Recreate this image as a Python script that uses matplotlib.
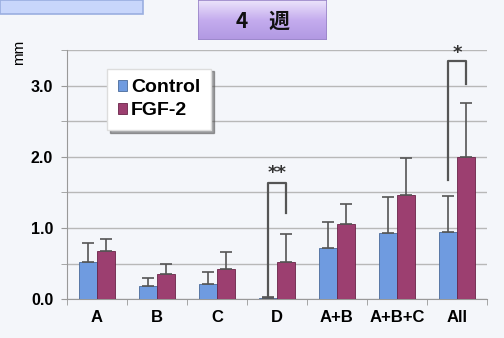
import numpy as np
import matplotlib.pyplot as plt
from matplotlib.patches import Rectangle
from matplotlib.ticker import MultipleLocator
from matplotlib.colors import LinearSegmentedColormap

categories = ['A', 'B', 'C', 'D', 'A+B', 'A+B+C', 'All']
control = [0.52, 0.18, 0.21, 0.02, 0.72, 0.93, 0.94]
control_err = [0.27, 0.11, 0.17, 0.01, 0.36, 0.51, 0.51]
fgf2 = [0.67, 0.36, 0.43, 0.52, 1.05, 1.46, 2.00]
fgf2_err = [0.18, 0.13, 0.23, 0.39, 0.28, 0.52, 0.76]
yticks = [0.0, 1.0, 2.0, 3.0]

bg = '#f4f6fa'
fig = plt.figure(figsize=(5.04, 3.38), dpi=100, facecolor=bg)
ax = fig.add_axes([0.133, 0.115, 0.833, 0.737], facecolor=bg)

x = np.arange(len(categories))
w = 0.3
blue = '#6f9be0'
red = '#9c3f70'
ecol = '#555555'
ax.bar(x - w/2, control, w, color=blue, edgecolor='#4a6a9a', linewidth=0.6, label='Control', zorder=3)
ax.bar(x + w/2, fgf2, w, color=red, edgecolor='#6a2448', linewidth=0.6, label='FGF-2', zorder=3)
ax.errorbar(x - w/2, control, yerr=[np.zeros(len(x)), control_err], fmt='none',
            ecolor=ecol, elinewidth=1.2, capsize=4, capthick=1.2, zorder=4)
ax.errorbar(x + w/2, fgf2, yerr=[np.zeros(len(x)), fgf2_err], fmt='none',
            ecolor=ecol, elinewidth=1.2, capsize=4, capthick=1.2, zorder=4)

# significance brackets
def bracket(i, left_low, right_low, top, label, dy):
    ax.plot([i - w/2, i - w/2, i + w/2, i + w/2], [left_low, top, top, right_low],
            color=ecol, lw=1.6, zorder=5, clip_on=False)
    ax.text(i, top + dy, label, ha='center', va='center', fontsize=13,
            fontweight='bold', color='#333333', clip_on=False)

bracket(3, 0.03, 1.21, 1.63, '**', 0.14)
bracket(6, 1.67, 3.02, 3.34, '*', 0.12)

ax.set_xlim(-0.5, len(categories) - 0.5)
ax.set_ylim(0, 3.5)
ax.set_yticks(yticks)
ax.set_yticklabels(['%.1f' % v for v in yticks], fontsize=11.5, fontweight='bold', family='Liberation Sans')
ax.yaxis.set_minor_locator(MultipleLocator(0.5))
ax.grid(axis='y', which='both', color='#b8b8b8', lw=1.0, zorder=0)
ax.set_xticks(x)
ax.set_xticklabels(categories, fontsize=12, fontweight='bold', family='Liberation Sans')
ax.set_xticks(np.arange(-0.5, len(categories)), minor=True)
ax.tick_params(axis='x', which='major', length=0, pad=8)
ax.tick_params(axis='x', which='minor', length=4, color='#999999')
ax.tick_params(axis='y', which='both', length=4, color='#999999', pad=6)
for s in ['top', 'right']:
    ax.spines[s].set_visible(False)
for s in ['left', 'bottom']:
    ax.spines[s].set_color('#999999')

leg = ax.legend(loc='upper left', bbox_to_anchor=(0.095, 0.925), borderaxespad=0, frameon=True,
                fancybox=False, shadow=True, handlelength=0.5, handleheight=0.5, handletextpad=0.2,
                borderpad=0.55, labelspacing=0.3,
                prop={'family': 'Liberation Sans', 'weight': 'bold', 'size': 14})
leg.get_frame().set_edgecolor('#dddddd')
leg.get_frame().set_facecolor('white')

fig.text(19 / 504, 1 - 52 / 338, 'mm', rotation=90, ha='center', va='center', fontsize=11,
         family='Liberation Sans')

# title box with gradient
tax = fig.add_axes([198 / 504, 1 - 40 / 338, 129 / 504, 40 / 338])
grad = np.linspace(0, 1, 64).reshape(-1, 1)
cmap = LinearSegmentedColormap.from_list('p', ['#ece4fb', '#c4acee', '#b198e2'])
tax.imshow(grad, aspect='auto', cmap=cmap, extent=[0, 1, 0, 1])
tax.set_xlim(0, 1)
tax.set_ylim(0, 1)
tax.axis('off')
tax.add_patch(Rectangle((0, 0), 1, 1, fill=False, edgecolor='#9a86c8', lw=1.2, transform=tax.transAxes))
fig.text(263 / 504, 1 - 21 / 338, '4\u3000週', ha='center', va='center', fontsize=15,
         fontweight='bold', family=['Noto Sans CJK JP', 'DejaVu Sans'], color='#111111')

# partial blue box top-left
fig.patches.append(Rectangle((0, 1 - 14 / 338), 143 / 504, 14 / 338, transform=fig.transFigure,
                             facecolor='#c8d6fb', edgecolor='#9aaee0', lw=1.2))

fig.savefig('out.png', dpi=100, facecolor=bg)
